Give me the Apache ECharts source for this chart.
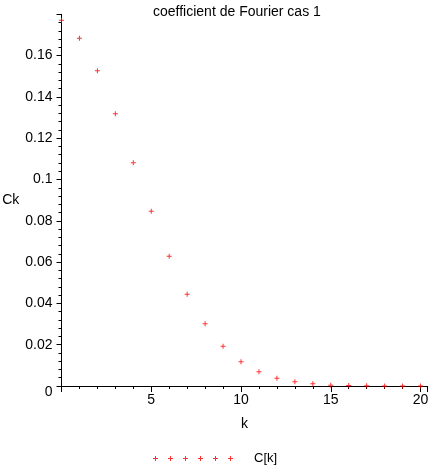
<!DOCTYPE html>
<html>
<head>
<meta charset="utf-8">
<title>coefficient de Fourier cas 1</title>
<script src="https://cdn.jsdelivr.net/npm/echarts@6/dist/echarts.min.js"></script>
<style>
  html, body { margin: 0; padding: 0; background: #fff; }
  #main { width: 429px; height: 467px; }
</style>
</head>
<body>
<div id="main"></div>
<script>
// valeurs
var kValues = [0, 1, 2, 3, 4, 5, 6, 7, 8, 9, 10, 11, 12, 13, 14, 15, 16, 17, 18, 19, 20];
var ckValues = [0.1771, 0.1684, 0.1527, 0.1318, 0.1081, 0.0846, 0.0628, 0.0444, 0.0301, 0.0193,
  0.0118, 0.0069, 0.0038, 0.0020, 0.0011, 0.0004, 0.0002, 0.0001, 0, 0, 0];
var xTickLabels = ['5', '10', '15', '20'];
var yTickLabels = ['0', '0.02', '0.04', '0.06', '0.08', '0.1', '0.12', '0.14', '0.16'];

var font = "'Liberation Sans', Arial, sans-serif";
// croix "+" pleine de 5x5
var plus = 'M2,0h1v2h2v1h-2v2h-1v-2h-2v-1h2z';
var legendIcon = 'path://';
for (var i = 0; i < 6; i++) {
  legendIcon += 'M' + (15 * i + 2) + ',0h1v2h2v1h-2v2h-1v-2h-2v-1h2z';
}

var points = kValues.map(function (k, i) { return [k, ckValues[i]]; });

var myChart = echarts.init(document.getElementById('main'));
myChart.setOption({
  animation: false,
  title: {
    text: 'coefficient de Fourier cas 1',
    left: 148,
    top: 0,
    textStyle: { fontFamily: font, fontSize: 14, fontWeight: 'normal', color: '#000' }
  },
  legend: {
    data: ['C[k]'],
    left: 148,
    top: 447,
    icon: legendIcon,
    itemWidth: 80,
    itemHeight: 5,
    textStyle: { fontFamily: font, fontSize: 13, color: '#000', padding: [0, 0, 0, 16] }
  },
  grid: { left: 61.5, right: 1.3, top: 14.3, bottom: 81, outerBoundsMode: 'none' },
  xAxis: {
    type: 'value',
    min: 0,
    max: 20.4,
    interval: 5,
    name: 'k',
    nameLocation: 'middle',
    nameGap: 31,
    nameTextStyle: { fontFamily: font, fontSize: 14, color: '#000' },
    axisLine: { onZero: false, lineStyle: { color: '#000', width: 1 } },
    axisTick: { show: true, length: 6, lineStyle: { color: '#000' } },
    minorTick: { show: true, splitNumber: 5, length: 3, lineStyle: { color: '#000' } },
    splitLine: { show: false },
    axisLabel: {
      fontFamily: font, fontSize: 14, color: '#000', margin: 7,
      formatter: function (v) {
        var s = String(v);
        return xTickLabels.indexOf(s) >= 0 ? s : '';
      }
    }
  },
  yAxis: {
    type: 'value',
    min: 0,
    max: 0.18,
    interval: 0.02,
    name: 'Ck',
    nameLocation: 'middle',
    nameRotate: 0,
    nameGap: 40,
    nameTextStyle: { fontFamily: font, fontSize: 14, color: '#000' },
    axisLine: { show: true, onZero: false, lineStyle: { color: '#000', width: 1 } },
    axisTick: { show: true, length: 5, lineStyle: { color: '#000' } },
    minorTick: { show: true, splitNumber: 5, length: 3, lineStyle: { color: '#000' } },
    splitLine: { show: false },
    axisLabel: {
      fontFamily: font, fontSize: 14, color: '#000', margin: 9,
      formatter: function (v) {
        var s = String(Math.round(v * 100) / 100);
        if (yTickLabels.indexOf(s) < 0) return '';
        return s === '0' ? '{z|0}' : s;
      },
      rich: { z: { fontFamily: font, fontSize: 14, color: '#000', padding: [12, 0, 0, 0] } }
    }
  },
  series: [
    {
      name: 'C[k]',
      type: 'scatter',
      data: points,
      symbol: 'path://' + plus,
      symbolSize: 5,
      clip: false,
      itemStyle: { color: '#ff0000' }
    }
  ]
});
</script>
</body>
</html>
